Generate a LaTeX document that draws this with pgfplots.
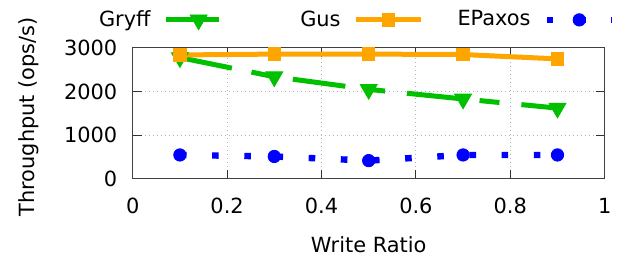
\documentclass[border=0pt]{standalone}
\usepackage{pgfplots}
\pgfplotsset{compat=1.18}
\usepackage{fontspec}
\setmainfont{DejaVu Sans}
\definecolor{ggreen}{RGB}{0,192,0}
\definecolor{gorange}{RGB}{255,165,0}
\definecolor{gblue}{RGB}{0,0,255}
\newcommand{\ff}{\fontsize{10.45}{12.5}\selectfont}
\begin{document}
\ff
\begin{tikzpicture}
\begin{axis}[name=ax, scale only axis, width=236pt, height=65.35pt,
 xmin=0, xmax=1, ymin=0, ymax=3000,
 xtick={0,0.2,0.4,0.6,0.8,1}, ytick={0,1000,2000,3000},
 xticklabels={0,0.2,0.4,0.6,0.8,1}, yticklabels={0,1000,2000,3000},
 grid=major, major grid style={black!30, line width=0.5pt, dash pattern=on 0.5pt off 1.5pt},
 axis line style={black!75, line width=0.5pt},
 major tick length=4.5pt, tick style={black!80, line width=0.5pt},
 tick label style={font=\ff},
 xticklabel style={anchor=center, inner sep=0pt, yshift=-13.8pt},
 yticklabel style={anchor=east, inner sep=0pt, xshift=-7.5pt},
 xlabel={Write Ratio}, ylabel={Throughput (ops/s)},
 label style={font=\ff},
 xlabel style={at={(axis description cs:0.5,-0.507)}, anchor=center, inner sep=0pt},
 ylabel style={at={(axis description cs:-0.2197,0.474)}, anchor=center, inner sep=0pt},
 legend columns=3, legend plot pos=right, legend cell align=right,
 legend style={at={(axis description cs:1.0218,1.214)}, anchor=east, draw=none, fill=none,
   inner sep=0pt, outer sep=0pt, column sep=6.5pt, font=\ff,
   nodes={inner sep=0pt, text width=47pt, align=right}},
 legend image code/.code={\draw[mark repeat=2,mark phase=2] plot coordinates {(0pt,0pt) (16.25pt,0pt) (32.5pt,0pt)};},
 clip=false,
]
\addplot[ggreen, line width=2.5pt, dash pattern=on 26.5pt off 10pt on 10pt off 11pt,
  mark=triangle*, mark size=4.9pt, mark options={solid, rotate=180, line width=0.4pt}]
  coordinates {(0.1,2780) (0.3,2340) (0.5,2050) (0.7,1830) (0.9,1620)};
\addlegendentry{Gryff}
\addplot[gorange, line width=2.5pt, mark=square*, mark size=3.1pt, mark options={solid, line width=0.4pt}]
  coordinates {(0.1,2840) (0.3,2860) (0.5,2860) (0.7,2850) (0.9,2750)};
\addlegendentry{Gus}
\addplot[gblue, line width=3.2pt, dash pattern=on 3.3pt off 12.8pt,
  mark=*, mark size=3.1pt, mark options={solid, line width=0.4pt}]
  coordinates {(0.1,545) (0.3,510) (0.5,415) (0.7,545) (0.9,545)};
\addlegendentry{EPaxos}
\end{axis}
\pgfresetboundingbox
\path[use as bounding box] ([shift={(-66.35pt,-39.15pt)}]ax.south west) rectangle ++(314.5pt,128.5pt);
\end{tikzpicture}
\end{document}
